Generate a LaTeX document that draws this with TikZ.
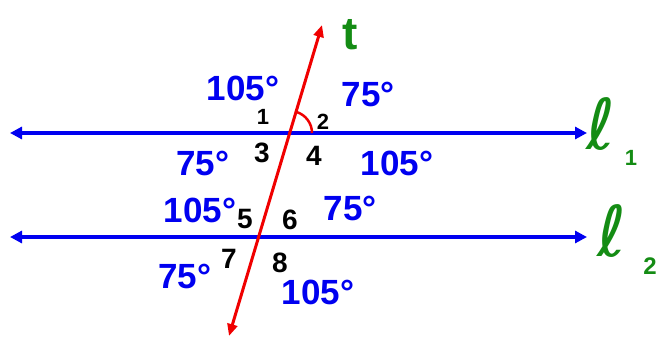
\documentclass[tikz,border=0pt]{standalone}
\usepackage{fontspec}
\setmainfont{Liberation Sans}
\newfontfamily\ellfont{DejaVu Sans}
\usetikzlibrary{arrows.meta}
\definecolor{hblue}{RGB}{0,0,240}
\definecolor{hred}{RGB}{240,0,0}
\definecolor{hgreen}{RGB}{20,140,20}
\begin{document}
\begin{tikzpicture}[x=1pt,y=-1pt,
  parline/.style={hblue, line width=3.5pt, {Triangle[length=12pt,width=12pt]}-{Triangle[length=12pt,width=12pt]}},
  trans/.style={hred, line width=3pt, {Triangle[length=12pt,width=10pt]}-{Triangle[length=12pt,width=10pt]}},
  ang/.style={hblue, font=\fontsize{35}{35}\selectfont\bfseries, inner sep=0pt},
  num/.style={black, font=\fontsize{28}{28}\selectfont\bfseries, inner sep=0pt},
  smallnum/.style={num, font=\fontsize{22}{22}\selectfont\bfseries},
  lbl/.style={hgreen, inner sep=0pt},
  marc/.style={hred, line width=2.5pt}]
\path[use as bounding box] (0,0) rectangle (663,337);
% lines
\coordinate (l1L) at (10,133);
\coordinate (l1R) at (587,133);
\coordinate (l2L) at (10,237);
\coordinate (l2R) at (587,237);
\coordinate (tB) at (229,336);
\coordinate (tT) at (322,25);
\coordinate (X1) at (290,133);
\draw[parline] (l1L) -- (l1R);
\draw[parline] (l2L) -- (l2R);
\draw[trans] (tB) -- (tT);
\draw[marc] (X1) ++(-73:22) arc[start angle=-73, end angle=0, radius=22];
% line labels
\node[lbl, font=\fontsize{46}{46}\selectfont\bfseries] (t) at (350,35) {t};
\node[lbl, font=\fontsize{70}{70}\ellfont] (ell1) at (601,124) {ℓ};
\node[lbl, font=\fontsize{22}{22}\selectfont\bfseries] (sub1) at (631,158) {1};
\node[lbl, font=\fontsize{70}{70}\ellfont] (ell2) at (612,231) {ℓ};
\node[lbl, font=\fontsize{24}{24}\selectfont\bfseries] (sub2) at (650,266) {2};
% angle measures
\node[ang] (a1) at (243,88) {105°};
\node[ang] (a2) at (368,94) {75°};
\node[ang] (a3) at (203,163) {75°};
\node[ang] (a4) at (397,163) {105°};
\node[ang] (a5) at (200,210) {105°};
\node[ang] (a6) at (350,208) {75°};
\node[ang] (a7) at (185,276) {75°};
\node[ang] (a8) at (318,292) {105°};
% angle numbers
\node[smallnum] (n1) at (263,117) {1};
\node[smallnum] (n2) at (323,122) {2};
\node[num] (n3) at (262,153) {3};
\node[num] (n4) at (314,156) {4};
\node[num] (n5) at (245,219) {5};
\node[num] (n6) at (290,220) {6};
\node[num] (n7) at (229,259) {7};
\node[num] (n8) at (280,263) {8};
\end{tikzpicture}
\end{document}
